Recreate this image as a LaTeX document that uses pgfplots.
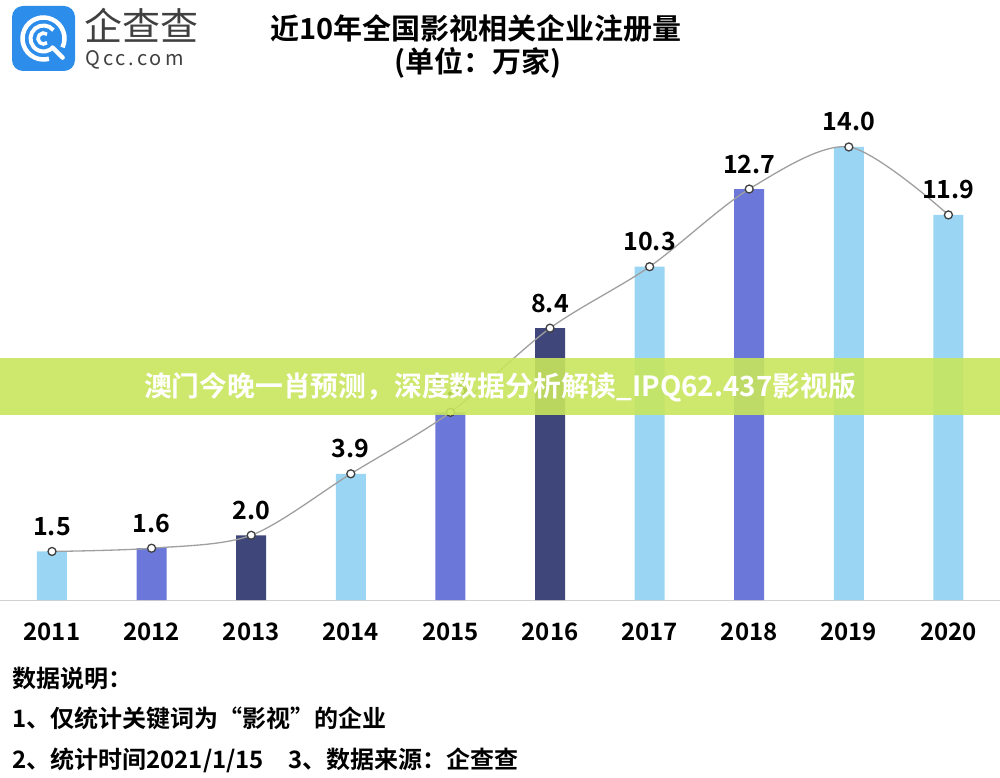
\documentclass[border=0pt]{standalone}
\usepackage{fontspec}
\setmainfont{Noto Sans CJK SC}[BoldFont={Noto Sans CJK SC Bold}]
\usepackage{pgfplots}
\pgfplotsset{compat=1.18}
\usetikzlibrary{calc}
\definecolor{lb}{HTML}{9AD6F3}
\definecolor{mb}{HTML}{6B77D9}
\definecolor{db}{HTML}{3F4679}
\definecolor{bannerc}{HTML}{C8E65C}
\definecolor{logoblue}{HTML}{2C8DEB}
\begin{document}
\begin{tikzpicture}[x=1pt,y=1pt]
\useasboundingbox (0,0) rectangle (1000,777);
\begin{axis}[at={(0pt,177pt)}, anchor=south west, scale only axis,
  width=1000pt, height=517.76pt,
  xmin=2010.478, xmax=2020.518, ymin=0, ymax=16,
  axis y line=none, axis x line*=bottom,
  x axis line style={draw=gray!35, line width=1pt, -},
  xtick={2011,2012,2013,2014,2015,2016,2017,2018,2019,2020},
  xticklabels={2011,2012,2013,2014,2015,2016,2017,2018,2019,2020},
  major tick length=0pt,
  x tick label style={font=\fontsize{24}{24}\selectfont\bfseries, yshift=-19pt},
  /pgf/number format/assume math mode=true,
  /pgf/number format/fixed, /pgf/number format/fixed zerofill, /pgf/number format/precision=1,
  clip=false]
\addplot[ybar, bar width=30pt, bar shift=0pt, fill=lb, draw=none] coordinates {(2011,1.5)(2014,3.9)(2017,10.3)(2019,14.0)(2020,11.9)};
\addplot[ybar, bar width=30pt, bar shift=0pt, fill=mb, draw=none] coordinates {(2012,1.6)(2015,5.8)(2018,12.7)};
\addplot[ybar, bar width=30pt, bar shift=0pt, fill=db, draw=none] coordinates {(2013,2.0)(2016,8.4)};
\addplot[smooth, color=gray!75, line width=1.3pt, mark=*, mark size=4pt,
  mark options={fill=white, draw=black!75, line width=1.3pt},
  nodes near coords, point meta=y,
  nodes near coords style={font=\fontsize{25}{25}\selectfont\bfseries, text=black, anchor=south, inner sep=0pt, yshift=15pt}]
  coordinates {(2011,1.5)(2012,1.6)(2013,2.0)(2014,3.9)(2015,5.8)(2016,8.4)(2017,10.3)(2018,12.7)(2019,14.0)(2020,11.9)};
\end{axis}
% title
\node at (476,749) {\fontsize{29}{29}\selectfont\bfseries 近10年全国影视相关企业注册量};
\node at (478,714) {\fontsize{29}{29}\selectfont\bfseries (单位：万家)};
% logo
\fill[logoblue, rounded corners=11] (12,706) rectangle (75,771);
\coordinate (c) at (43.5,738.5);
\draw[white, line width=4.5] (c) ++(-25:21) arc[start angle=-25, end angle=285, radius=21];
\draw[white, line width=4.5, line cap=round] ($(c)+(-45:13)$) -- ($(c)+(-45:27)$);
\draw[white, line width=4] (c) ++(40:13) arc[start angle=40, end angle=320, radius=13];
\draw[white, line width=3.5] (c) ++(50:5.5) arc[start angle=50, end angle=310, radius=5.5];
\node[anchor=west, text=black!75, inner sep=0pt] at (84,752) {\fontsize{38}{38}\selectfont 企查查};
\node[anchor=west, text=black!75, inner sep=0pt] at (85,717) {\fontsize{20}{20}\selectfont\addfontfeatures{LetterSpace=15}Qcc.com};
% notes
\node[anchor=west, inner sep=0pt] at (12,99) {\fontsize{24}{24}\selectfont\bfseries 数据说明：};
\node[anchor=west, inner sep=0pt] at (12,59) {\fontsize{24}{24}\selectfont\bfseries 1、仅统计关键词为“影视”的企业};
\node[anchor=west, inner sep=0pt] at (12,17) {\fontsize{24}{24}\selectfont\bfseries 2、统计时间2021/1/15\hspace{1em}3、数据来源：企查查};
% watermark banner
\fill[bannerc, opacity=0.9] (0,362) rectangle (1000,419);
\node[text=white] at (500,390) {\fontsize{27.8}{27.8}\selectfont\bfseries 澳门今晚一肖预测，深度数据分析解读\_IPQ62.437影视版};
\end{tikzpicture}
\end{document}
